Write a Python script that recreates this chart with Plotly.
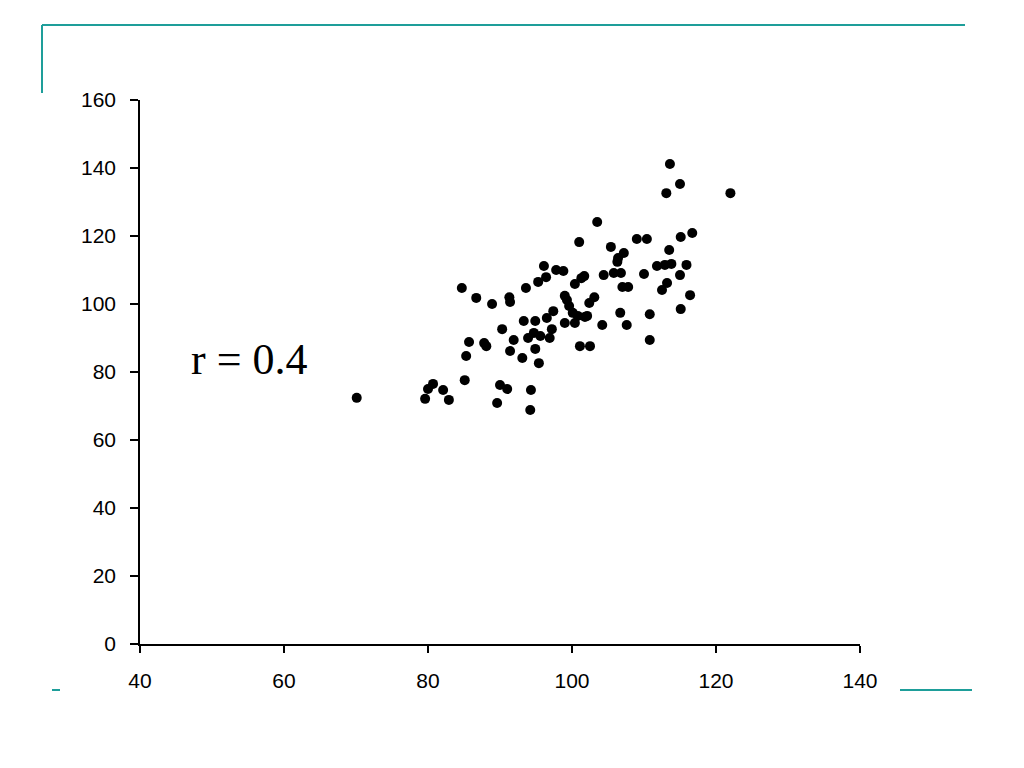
import plotly.graph_objects as go

# Data (x, y)
x_vals = [70.1, 79.6, 80.0, 80.7, 82.1, 82.9, 84.7, 85.1, 85.3, 85.7,
          86.7, 87.8, 88.1, 88.9, 89.6, 90.0, 90.3, 91.0, 91.3, 91.4,
          91.4, 91.9, 93.1, 93.3, 93.6, 93.9, 94.2, 94.3, 94.7, 94.9,
          94.9, 95.3, 95.4, 95.6, 96.1, 96.4, 96.5, 96.9, 97.2, 97.4,
          97.8, 98.8, 99.0, 99.0, 99.3, 99.6, 100.1, 100.4, 100.4, 100.8,
          101.0, 101.1, 101.3, 101.7, 101.8, 102.1, 102.4, 102.5, 103.1, 103.5,
          104.2, 104.4, 105.4, 105.8, 106.3, 106.4, 106.7, 106.8, 107.0, 107.2,
          107.6, 107.8, 109.0, 110.0, 110.4, 110.8, 110.8, 111.8, 112.5, 112.9,
          113.1, 113.2, 113.5, 113.6, 113.8, 115.0, 115.0, 115.1, 115.1, 115.9,
          116.4, 116.7, 122.0]
y_vals = [72.4, 72.1, 75.0, 76.5, 74.7, 71.8, 104.7, 77.6, 84.7, 88.8,
          101.8, 88.5, 87.6, 100.0, 70.9, 76.2, 92.6, 75.0, 102.0, 100.6,
          86.2, 89.4, 84.1, 95.0, 104.7, 90.0, 68.8, 74.7, 91.5, 95.0,
          86.8, 106.5, 82.6, 90.6, 111.2, 107.9, 95.9, 90.0, 92.6, 97.9,
          110.0, 109.7, 102.4, 94.4, 101.2, 99.4, 97.4, 94.4, 105.9, 96.5,
          118.2, 87.6, 107.6, 108.2, 96.2, 96.5, 100.3, 87.6, 102.0, 124.1,
          93.8, 108.5, 116.8, 109.1, 112.4, 113.5, 97.4, 109.1, 105.0, 115.0,
          93.8, 105.0, 119.1, 108.8, 119.1, 97.0, 89.4, 111.2, 104.1, 111.5,
          132.6, 106.2, 115.9, 141.2, 111.8, 135.3, 108.5, 98.5, 119.7, 111.5,
          102.6, 120.9, 132.6]

x_ticks = [40, 60, 80, 100, 120, 140]
y_ticks = [0, 20, 40, 60, 80, 100, 120, 140, 160]
annotation_text = "r = 0.4"

TEAL = "#1E9E9A"
OFF = 8  # page body margin offset
W, H = 1024, 768
L, T = 140 - OFF, 100 - OFF
PW, PH = 720, 544
R = W - L - PW
B = H - T - PH


def px_x(p):
    return (p - OFF - L) / PW


def px_y(p):
    return (T + PH - (p - OFF)) / PH


fig = go.Figure()
fig.add_trace(go.Scatter(
    x=x_vals, y=y_vals, mode="markers",
    marker=dict(color="black", size=10, line=dict(width=0)),
    hoverinfo="x+y", showlegend=False,
))

axis_common = dict(
    showgrid=False, zeroline=False, showline=True, linecolor="black", linewidth=1.5,
    ticks="outside", tickwidth=1.5, tickcolor="black",
    tickfont=dict(family="Liberation Sans, Arial", size=21, color="black"),
)
fig.update_xaxes(range=[40, 140], tickvals=x_ticks, ticktext=[str(v) for v in x_ticks],
                 ticklen=7, ticklabelstandoff=10, **axis_common)
fig.update_yaxes(range=[0, 160], tickvals=y_ticks, ticktext=[str(v) for v in y_ticks],
                 ticklen=8, ticklabelstandoff=10, **axis_common)

fig.add_annotation(x=px_x(249), y=px_y(359), xref="paper", yref="paper",
                   xanchor="center", yanchor="middle",
                   text=annotation_text, showarrow=False,
                   font=dict(family="Liberation Serif, Times New Roman", size=44, color="black"))

line_style = dict(color=TEAL, width=2)
shapes = [
    dict(type="line", xref="paper", yref="paper", x0=px_x(42), x1=px_x(965), y0=px_y(25), y1=px_y(25), line=line_style),
    dict(type="line", xref="paper", yref="paper", x0=px_x(42), x1=px_x(42), y0=px_y(25), y1=px_y(93), line=line_style),
    dict(type="line", xref="paper", yref="paper", x0=px_x(52), x1=px_x(60), y0=px_y(690), y1=px_y(690), line=line_style),
    dict(type="line", xref="paper", yref="paper", x0=px_x(900), x1=px_x(972), y0=px_y(690), y1=px_y(690), line=line_style),
]
fig.update_layout(
    width=W, height=H, margin=dict(l=L, r=R, t=T, b=B),
    plot_bgcolor="white", paper_bgcolor="white", shapes=shapes,
)

fig.write_html("out.html")
